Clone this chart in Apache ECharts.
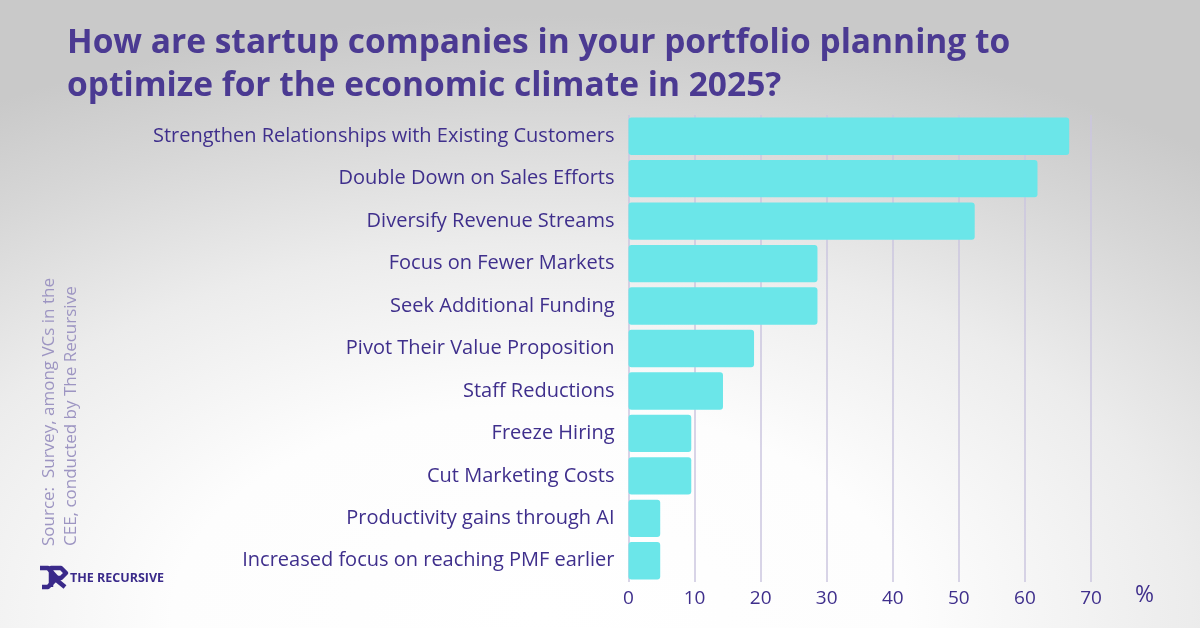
<!DOCTYPE html>
<html><head><meta charset="utf-8">
<script src="https://cdn.jsdelivr.net/npm/echarts@6/dist/echarts.min.js"></script>
<style>
html,body{margin:0;padding:0;}
#c{width:1200px;height:628px;
  background: radial-gradient(ellipse 1050px 600px at 45% 98%, #ffffff 0%, #fdfdfd 35%, #ececec 62%, #d6d6d6 85%, #c9c9c9 100%);}
</style>
</head><body><div id="c"></div>
<script>
const categories = [
  "Strengthen Relationships with Existing Customers",
  "Double Down on Sales Efforts",
  "Diversify Revenue Streams",
  "Focus on Fewer Markets",
  "Seek Additional Funding",
  "Pivot Their Value Proposition",
  "Staff Reductions",
  "Freeze Hiring",
  "Cut Marketing Costs",
  "Productivity gains through AI",
  "Increased focus on reaching PMF earlier"
];
const values = [66.7, 61.9, 52.4, 28.6, 28.6, 19.0, 14.3, 9.5, 9.5, 4.8, 4.8];
const titleText = "How are startup companies in your portfolio planning to\noptimize for the economic climate in 2025?";
const sourceLines = ["Source:  Survey, among VCs in the", "CEE, conducted by The Recursive"];
const brand = "THE RECURSIVE";

const purple = '#3f2f8c';
const chart = echarts.init(document.getElementById('c'));
chart.setOption({
  backgroundColor: 'transparent',
  animation: false,
  title: {
    text: titleText, left: 62, top: 17,
    textStyle: {fontFamily: 'Open Sans', fontWeight: 'bold', fontSize: 33.5, lineHeight: 43, color: '#4b3a92'}
  },
  grid: {left: 628.5, right: 109, top: 115, bottom: 46, containLabel: false},
  xAxis: {
    type: 'value', min: 0, max: 70, interval: 10,
    name: '%', nameLocation: 'end', nameGap: 44,
    nameTextStyle: {fontFamily: 'Open Sans', fontSize: 23, color: purple, verticalAlign: 'top', padding: [2, 0, 0, 0]},
    axisLine: {show: false}, axisTick: {show: false},
    axisLabel: {fontFamily: 'Open Sans', fontSize: 19, color: purple, margin: 7},
    splitLine: {show: true, lineStyle: {color: '#cbc6df', width: 1.5}}
  },
  yAxis: {
    type: 'category', data: categories, inverse: true,
    axisLine: {show: false}, axisTick: {show: false},
    axisLabel: {fontFamily: 'Open Sans', fontSize: 20, color: purple, margin: 14}
  },
  series: [{
    type: 'bar', data: values, barCategoryGap: '12%',
    itemStyle: {color: '#6be6e9', borderRadius: 3}
  }],
  graphic: [
    {type: 'text', rotation: Math.PI/2, x: 41, y: 546,
     style: {text: sourceLines[0], fontFamily: 'Open Sans', fontSize: 17, fill: '#9d95c2', textVerticalAlign: 'top'}},
    {type: 'text', rotation: Math.PI/2, x: 63, y: 546,
     style: {text: sourceLines[1], fontFamily: 'Open Sans', fontSize: 17, fill: '#9d95c2', textVerticalAlign: 'top'}},
    {type: 'group', x: 39, y: 566, children: [
      {type: 'polyline', shape: {points: [[1,2],[9,2],[18,12],[9,21],[3,21]]}, style: {stroke: '#3a2a8a', lineWidth: 4.5, fill: null, lineJoin: 'round'}},
      {type: 'polyline', shape: {points: [[12,21],[12,2],[22,2],[27,7],[22,12],[15,12],[26,21]]}, style: {stroke: '#3a2a8a', lineWidth: 4.5, fill: null, lineJoin: 'round'}}
    ]},
    {type: 'text', x: 70, y: 578,
     style: {text: brand, fontFamily: 'Open Sans', fontWeight: 'bold', fontSize: 12.5, fill: '#3a2a8a', textVerticalAlign: 'middle'}}
  ]
});
</script></body></html>
